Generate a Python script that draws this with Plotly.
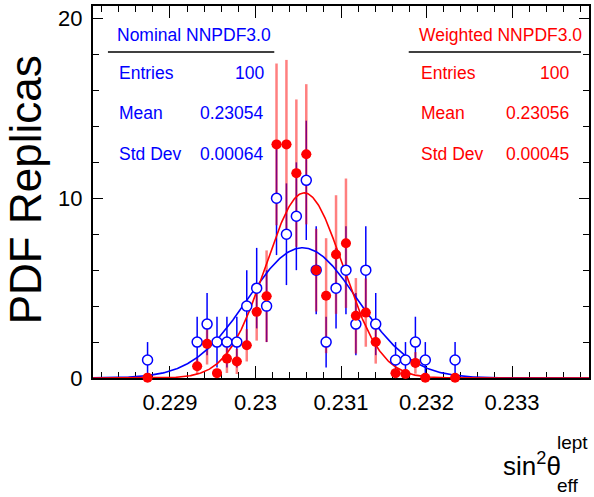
import numpy as np
import plotly.graph_objects as go

# Histogram binning: 50 bins over the sin^2(theta_eff) range
X_LO, X_HI, N_BINS = 0.2281, 0.2339, 50
BIN_W = (X_HI - X_LO) / N_BINS

# Filled bins (index into the 50-bin histogram)
filled_bins = [5, 10, 11, 12, 13, 14, 15, 16, 17, 18, 19, 20, 21, 22, 23, 24,
               25, 26, 27, 28, 30, 31, 32, 33, 36]

# Nominal NNPDF3.0 replicas (unweighted counts and their errors)
nominal_counts = [1, 2, 3, 2, 2, 2, 4, 5, 4, 10, 8, 9, 11, 6, 2, 5,
                  6, 3, 6, 3, 1, 1, 2, 1, 1]
nominal_errors = [1.0, 1.41, 1.73, 1.41, 1.41, 1.41, 2.0, 2.24, 2.0, 3.16, 2.83, 3.0, 3.32, 2.45, 1.41, 2.24,
                  2.45, 1.73, 2.45, 1.73, 1.0, 1.0, 1.41, 1.0, 1.0]

# Weighted NNPDF3.0 replicas (sum of weights and their errors)
weighted_counts = [0.02, 0.65, 1.9, 0.27, 1.08, 0.92, 1.82, 3.68, 4.55, 13.0, 13.0, 11.4, 12.45, 6.0, 4.58, 6.87,
                   7.5, 3.46, 3.64, 2.0, 0.27, 0.22, 0.84, 0.01, 0.01]
weighted_errors = [0.02, 0.45, 1.15, 0.25, 0.8, 0.7, 0.9, 1.6, 2.55, 4.5, 4.7, 4.1, 3.9, 2.3, 3.2, 3.3,
                   3.6, 2.1, 1.9, 1.2, 0.2, 0.2, 0.6, 0.01, 0.01]

# Gaussian fit parameters (constant, mean, sigma)
nominal_fit = (7.25, 0.23055, 0.00064)
weighted_fit = (10.3, 0.23057, 0.00045)

# Statistics boxes
nominal_stats = {"title": "Nominal NNPDF3.0", "Entries": "100", "Mean": "0.23054", "Std Dev": "0.00064"}
weighted_stats = {"title": "Weighted NNPDF3.0", "Entries": "100", "Mean": "0.23056", "Std Dev": "0.00045"}

# Axis ticks
x_tickvals = [0.229, 0.230, 0.231, 0.232, 0.233]
x_ticktext = ["0.229", "0.23", "0.231", "0.232", "0.233"]
y_tickvals = [0, 10, 20]

Y_MAX = 20.7
BLUE = "#0000ff"
RED = "#ff0000"
FONT = "Liberation Sans, Arial, Helvetica, sans-serif"

centers = [X_LO + (i + 0.5) * BIN_W for i in filled_bins]
half_w = [BIN_W / 2] * len(centers)


def gauss_curve(params, n=600):
    c, mu, s = params
    xs = np.linspace(X_LO, X_HI, n)
    return xs, c * np.exp(-0.5 * ((xs - mu) / s) ** 2)


fig = go.Figure()

# Error bars first (nominal solid, weighted translucent on top)
fig.add_trace(go.Scatter(
    x=centers, y=nominal_counts, mode="markers", marker=dict(size=0.1, color=BLUE, opacity=0),
    error_y=dict(type="data", array=nominal_errors, visible=True, color=BLUE, thickness=1.5, width=0),
    error_x=dict(type="data", array=half_w, visible=True, color=BLUE, thickness=1.2, width=0),
    cliponaxis=False, showlegend=False, hoverinfo="skip",
))
fig.add_trace(go.Scatter(
    x=centers, y=weighted_counts, mode="markers", marker=dict(size=0.1, color=RED, opacity=0),
    error_y=dict(type="data", array=weighted_errors, visible=True, color="rgba(255,0,0,0.5)",
                 thickness=2.5, width=0),
    error_x=dict(type="data", array=half_w, visible=True, color=RED, thickness=1.2, width=0),
    cliponaxis=False, showlegend=False, hoverinfo="skip",
))

# Gaussian fits
bx, by = gauss_curve(nominal_fit)
fig.add_trace(go.Scatter(x=bx, y=by, mode="lines", line=dict(color=BLUE, width=1.6),
                         showlegend=False, hoverinfo="skip"))
rx, ry = gauss_curve(weighted_fit)
fig.add_trace(go.Scatter(x=rx, y=ry, mode="lines", line=dict(color=RED, width=1.6),
                         showlegend=False, hoverinfo="skip", cliponaxis=False))

# Markers on top: nominal open circles, weighted filled circles
fig.add_trace(go.Scatter(
    x=centers, y=nominal_counts, mode="markers",
    marker=dict(symbol="circle", size=10, color="white", line=dict(width=1.5, color=BLUE)),
    cliponaxis=False, showlegend=False,
))
fig.add_trace(go.Scatter(
    x=centers, y=weighted_counts, mode="markers",
    marker=dict(symbol="circle", size=10, color=RED, line=dict(width=0)),
    cliponaxis=False, showlegend=False,
))

# Plot frame in pixels
L, R, T, B = 93, 591, 6, 378
W, H = R - L, B - T


def px(x):
    return (x - L) / W


def py(y):
    return (B - y) / H


annotations = []
shapes = []
STAT_SIZE = 17.5


def stats_box(stats, color, x_left, x_right, line_l, line_r):
    annotations.append(dict(x=px(x_left), y=py(35), xref="paper", yref="paper", text=stats["title"],
                            showarrow=False, xanchor="left", yanchor="middle",
                            font=dict(family=FONT, size=STAT_SIZE, color=color)))
    shapes.append(dict(type="line", xref="paper", yref="paper", x0=px(line_l), x1=px(line_r),
                       y0=py(52), y1=py(52), line=dict(color="black", width=1.5)))
    for key, yc in (("Entries", 73), ("Mean", 113), ("Std Dev", 154)):
        annotations.append(dict(x=px(x_left + 2), y=py(yc), xref="paper", yref="paper", text=key,
                                showarrow=False, xanchor="left", yanchor="middle",
                                font=dict(family=FONT, size=STAT_SIZE, color=color)))
        annotations.append(dict(x=px(x_right), y=py(yc), xref="paper", yref="paper", text=stats[key],
                                showarrow=False, xanchor="right", yanchor="middle",
                                font=dict(family=FONT, size=STAT_SIZE, color=color)))


stats_box(nominal_stats, BLUE, 115, 267, 108, 275)
stats_box(weighted_stats, RED, 418, 573, 410, 583)

# Axis titles
annotations.append(dict(x=px(25), y=py(190), xref="paper", yref="paper", text="PDF Replicas",
                        textangle=-90, showarrow=False, xanchor="center", yanchor="middle",
                        font=dict(family=FONT, size=44, color="black")))
annotations.append(dict(x=px(503), y=py(464), xref="paper", yref="paper", text="sin<sup>2</sup>θ",
                        showarrow=False, xanchor="left", yanchor="middle",
                        font=dict(family=FONT, size=26, color="black")))
annotations.append(dict(x=px(557), y=py(442), xref="paper", yref="paper", text="lept",
                        showarrow=False, xanchor="left", yanchor="middle",
                        font=dict(family=FONT, size=19, color="black")))
annotations.append(dict(x=px(557), y=py(485), xref="paper", yref="paper", text="eff",
                        showarrow=False, xanchor="left", yanchor="middle",
                        font=dict(family=FONT, size=19, color="black")))

fig.update_layout(
    width=594, height=497,
    margin=dict(l=L, r=594 - R, t=T, b=497 - B, pad=0),
    paper_bgcolor="white", plot_bgcolor="white",
    annotations=annotations, shapes=shapes,
    showlegend=False,
)
fig.update_xaxes(
    range=[X_LO, X_HI], showgrid=False, zeroline=False,
    showline=True, linecolor="black", linewidth=2, mirror="ticks",
    ticks="inside", ticklen=12, tickwidth=1, tickcolor="black",
    tickmode="array", tickvals=x_tickvals, ticktext=x_ticktext, tickangle=0,
    tickfont=dict(family=FONT, size=22, color="black"), ticklabelstandoff=4,
    minor=dict(ticks="inside", ticklen=6, tickmode="linear", tick0=0.229, dtick=0.0002,
               tickcolor="black", tickwidth=1, showgrid=False),
    layer="below traces",
)
fig.update_yaxes(
    range=[0, Y_MAX], showgrid=False, zeroline=False,
    showline=True, linecolor="black", linewidth=2, mirror="ticks",
    ticks="inside", ticklen=10, tickwidth=1, tickcolor="black",
    tickmode="array", tickvals=y_tickvals,
    tickfont=dict(family=FONT, size=22, color="black"), ticklabelstandoff=4,
    minor=dict(ticks="inside", ticklen=6, tickmode="linear", tick0=0, dtick=2,
               tickcolor="black", tickwidth=1, showgrid=False),
)

fig.write_html("out.html")
